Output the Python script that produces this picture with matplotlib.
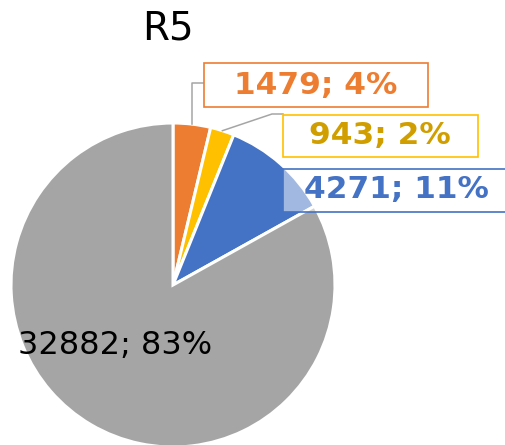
import numpy as np
import matplotlib.pyplot as plt
from matplotlib.patches import Rectangle

# data
labels = ["1479", "943", "4271", "32882"]
values = [1479, 943, 4271, 32882]
percents = ["4%", "2%", "11%", "83%"]
colors = ["#ED7D31", "#FFC000", "#4472C4", "#A5A5A5"]
text_colors = ["#ED7D31", "#D19E00", "#4472C4", "#000000"]
title = "R5"

W, H = 506, 445


def py(y):
    # image pixel row -> axes y (origin bottom)
    return H - y


fig = plt.figure(figsize=(W / 100, H / 100), dpi=100)
ax = fig.add_axes([0, 0, 1, 1])

cx, cy, r = 173, py(285), 162
wedges, _ = ax.pie(values, colors=colors, startangle=90, counterclock=False,
                   center=(cx, cy), radius=r,
                   wedgeprops=dict(edgecolor="white", linewidth=2.2))
ax.set_xlim(0, W)
ax.set_ylim(0, H)
ax.set_aspect("equal")
ax.axis("off")


def edge_point(w, frac=1.0):
    ang = np.deg2rad((w.theta1 + w.theta2) / 2)
    return cx + r * frac * np.cos(ang), cy + r * frac * np.sin(ang)


# leader lines
x0, y0 = edge_point(wedges[0])
ax.plot([x0, x0, 204], [y0, py(83), py(83)], color="#A5A5A5", lw=1.1, zorder=2)
x1, y1 = edge_point(wedges[1])
ax.plot([x1, 272, 283], [y1, py(114), py(114)], color="#A5A5A5", lw=1.1, zorder=2)

# label boxes (x, top, width, height in pixels)
boxes = [(204, 63, 224, 44), (283, 115, 195, 42), (283, 169, 240, 43)]
centers = [(316, 85), (380, 136), (396, 190)]
fills = ["white", "white", (1, 1, 1, 0.5)]
for i, ((bx, bt, bw, bh), (tx, ty)) in enumerate(zip(boxes, centers)):
    ax.add_patch(Rectangle((bx, py(bt + bh)), bw, bh, facecolor=fills[i],
                           edgecolor=colors[i], lw=1.2, zorder=3))
    ax.text(tx, py(ty), f"{labels[i]}; {percents[i]}", ha="center", va="center",
            fontsize=22.5, fontweight="bold", color=text_colors[i], zorder=4)

ax.text(115, py(345), f"{labels[3]}; {percents[3]}", ha="center", va="center",
        fontsize=23, color=text_colors[3], zorder=4)

ax.text(168, py(29), title, ha="center", va="center", fontsize=28, color="black")

fig.savefig("out.png", dpi=100)
